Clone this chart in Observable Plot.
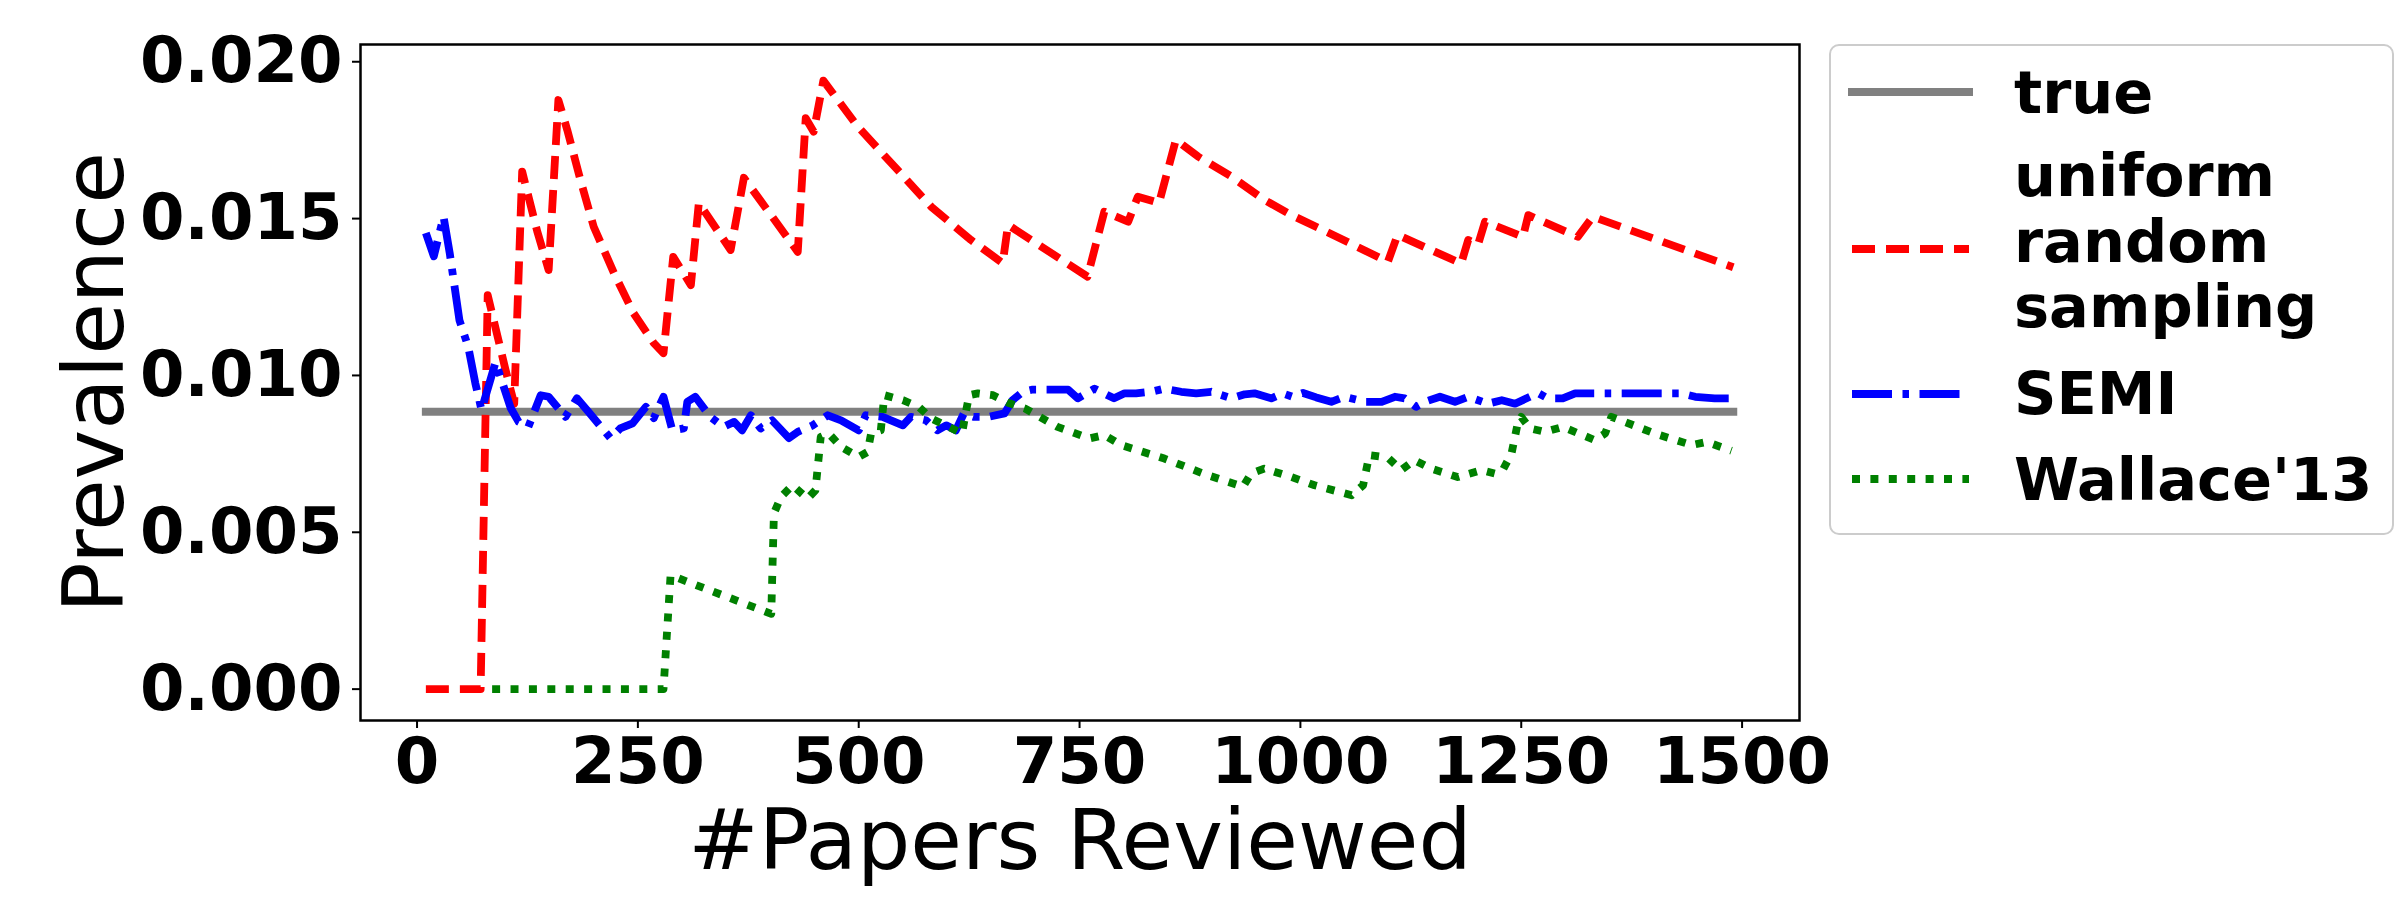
<!DOCTYPE html>
<html><head><meta charset="utf-8">
<script src="https://cdn.jsdelivr.net/npm/d3@7"></script>
<script src="https://cdn.jsdelivr.net/npm/@observablehq/plot@0.6"></script>
<style>
html,body{margin:0;padding:0;background:#fff;}
#wrap{position:relative;width:2400px;height:900px;overflow:hidden;}
#legend{position:absolute;left:1829px;top:44px;}
svg text{font-family:"DejaVu Sans",sans-serif;}
g[aria-label="x-axis tick label"] text, g[aria-label="y-axis tick label"] text{font-weight:bold;}
</style></head><body><div id="wrap"></div>
<script>
// ---------- data ----------
const xTicks = [0, 250, 500, 750, 1000, 1250, 1500];
const yTicks = [0, 0.005, 0.010, 0.015, 0.020];
const seriesNames = ["true", "uniform random sampling", "SEMI", "Wallace'13"];
const xLabel = "#Papers Reviewed";
const yLabel = "Prevalence";

const trueValue = 0.00884;
const trueX = [10, 1490];

const randomX = [10, 72, 80, 100, 110, 119, 136, 149, 160, 170, 185, 200, 223, 245, 268, 279, 290, 310, 319, 355, 370, 431, 440, 449, 460, 499, 544, 582, 627, 663, 669, 759, 778, 805, 816, 840, 859, 884, 922, 959, 990, 1040, 1099, 1110, 1182, 1190, 1201, 1209, 1252, 1258, 1314, 1331, 1490];
const randomY = [0, 0, 0.01256, 0.0102, 0.0091, 0.0165, 0.0146, 0.01336, 0.01878, 0.01783, 0.01623, 0.01474, 0.01326, 0.01199, 0.01103, 0.01071, 0.01378, 0.01288, 0.0155, 0.0140, 0.0163, 0.01394, 0.0182, 0.01777, 0.0194, 0.01793, 0.01655, 0.01538, 0.01432, 0.01358, 0.0148, 0.01315, 0.01522, 0.0149, 0.0157, 0.0155, 0.01751, 0.01698, 0.01634, 0.0156, 0.01511, 0.01444, 0.01362, 0.01448, 0.01357, 0.01432, 0.01416, 0.0149, 0.01442, 0.01511, 0.01442, 0.01506, 0.01345];

const semiX = [10, 19, 30, 37, 48, 58, 66, 73, 89, 106, 115, 126, 140, 149, 168, 181, 194, 219, 230, 244, 259, 268, 279, 289, 302, 306, 315, 332, 347, 359, 368, 378, 389, 402, 421, 431, 448, 465, 480, 500, 508, 527, 550, 559, 576, 589, 599, 610, 619, 630, 647, 665, 674, 686, 697, 737, 748, 767, 789, 801, 814, 831, 846, 865, 882, 899, 922, 937, 948, 967, 980, 991, 1003, 1018, 1035, 1050, 1073, 1092, 1107, 1118, 1131, 1141, 1158, 1175, 1190, 1212, 1228, 1243, 1269, 1280, 1297, 1311, 1431, 1447, 1469, 1490];
const semiY = [0.01454, 0.01380, 0.01506, 0.0139, 0.01176, 0.01091, 0.00975, 0.0089, 0.01043, 0.00896, 0.00852, 0.00836, 0.00937, 0.00932, 0.00868, 0.00927, 0.00884, 0.0080, 0.00831, 0.00847, 0.0090, 0.00864, 0.00932, 0.00825, 0.00831, 0.00916, 0.00932, 0.00868, 0.00836, 0.00852, 0.00825, 0.00873, 0.00831, 0.00857, 0.0080, 0.0082, 0.00841, 0.00873, 0.00857, 0.00825, 0.00873, 0.00868, 0.00841, 0.00868, 0.00857, 0.00825, 0.00841, 0.00825, 0.00879, 0.00868, 0.00868, 0.00879, 0.00921, 0.00948, 0.00955, 0.00955, 0.00927, 0.00958, 0.00927, 0.00943, 0.00943, 0.00948, 0.00958, 0.00948, 0.00943, 0.00948, 0.00927, 0.0094, 0.00943, 0.00927, 0.00943, 0.00932, 0.00944, 0.0093, 0.00916, 0.00932, 0.00916, 0.00916, 0.00932, 0.00927, 0.0090, 0.00916, 0.00932, 0.00916, 0.00932, 0.0091, 0.00921, 0.0091, 0.00944, 0.00927, 0.00927, 0.00943, 0.00943, 0.00932, 0.00927, 0.00927];

const wallaceX = [85, 279, 287, 401, 404, 412, 425, 442, 451, 457, 466, 480, 500, 510, 514, 525, 529, 550, 568, 582, 602, 617, 621, 625, 635, 652, 669, 688, 725, 761, 778, 797, 846, 895, 935, 944, 959, 990, 1016, 1058, 1071, 1078, 1099, 1114, 1129, 1148, 1178, 1205, 1220, 1229, 1239, 1246, 1250, 1260, 1277, 1297, 1333, 1345, 1352, 1367, 1401, 1443, 1460, 1488];
const wallaceY = [0, 0, 0.00363, 0.0024, 0.0056, 0.00613, 0.0065, 0.00607, 0.00634, 0.00804, 0.00815, 0.00772, 0.0074, 0.00756, 0.00815, 0.00825, 0.00937, 0.00921, 0.0090, 0.00863, 0.00836, 0.00815, 0.00879, 0.00937, 0.00943, 0.00937, 0.00913, 0.00895, 0.00836, 0.00799, 0.0081, 0.00778, 0.00735, 0.00682, 0.00645, 0.00687, 0.00703, 0.00676, 0.0065, 0.00618, 0.0065, 0.00746, 0.00738, 0.00698, 0.0073, 0.00703, 0.00676, 0.00698, 0.00687, 0.00698, 0.00751, 0.00847, 0.00868, 0.00831, 0.0082, 0.00836, 0.00794, 0.00815, 0.00868, 0.00852, 0.00815, 0.00778, 0.00788, 0.0076];

// ---------- styles ----------
const styles = {
  "true": {stroke: "#808080", strokeWidth: 8, dash: null, cap: "square"},
  "uniform random sampling": {stroke: "#ff0000", strokeWidth: 7.8, dash: "23,11", cap: "butt"},
  "SEMI": {stroke: "#0000ff", strokeWidth: 7.8, dash: "40,10.5,6.5,10.5", cap: "butt"},
  "Wallace'13": {stroke: "#008000", strokeWidth: 7.8, dash: "8,10.4", cap: "butt"}
};

const zip = (xs, ys) => xs.map((x, i) => ({x, y: ys[i]}));
const trueData = trueX.map(x => ({x, y: trueValue}));
const seriesData = [trueData, zip(randomX, randomY), zip(semiX, semiY), zip(wallaceX, wallaceY)];

const lineMarks = seriesNames.map((name, i) => {
  const s = styles[name];
  return Plot.line(seriesData[i], {
    x: "x", y: "y", stroke: s.stroke, strokeWidth: s.strokeWidth,
    strokeDasharray: s.dash ?? undefined, strokeLinecap: s.cap, strokeLinejoin: "round"
  });
});

const chart = Plot.plot({
  width: 2400, height: 900,
  marginLeft: 360, marginRight: 601, marginTop: 44, marginBottom: 180,
  style: {fontFamily: "DejaVu Sans", background: "white", color: "black"},
  x: {domain: [-64, 1565]},
  y: {domain: [-0.001, 0.02055]},
  marks: [
    Plot.axisX({ticks: xTicks, tickSize: 8, tickPadding: 9, fontSize: 64, fontWeight: "bold", strokeWidth: 2, label: null, tickFormat: d3.format("d")}),
    Plot.axisY({ticks: yTicks, tickSize: 8, tickPadding: 10, fontSize: 64, fontWeight: "bold", strokeWidth: 2, label: null, tickFormat: d3.format(".3f")}),
    ...lineMarks,
    Plot.frame({stroke: "black", strokeWidth: 2.5}),
    Plot.text([xLabel], {frameAnchor: "bottom", textAnchor: "middle", lineAnchor: "bottom", dy: 148, fontSize: 84, fill: "black"}),
    Plot.text([yLabel], {frameAnchor: "left", textAnchor: "middle", lineAnchor: "bottom", rotate: -90, dx: -238, fontSize: 84, fill: "black"})
  ]
});
document.getElementById("wrap").appendChild(chart);

// ---------- legend ----------
const legendLayout = [
  {lineY: 48, baselines: [68.5]},
  {lineY: 205, baselines: [152, 218, 283]},
  {lineY: 350, baselines: [370]},
  {lineY: 435, baselines: [456]}
];
const lg = d3.select("#wrap").append("svg").attr("id", "legend").attr("width", 566).attr("height", 492);
lg.append("rect").attr("x", 1).attr("y", 1).attr("width", 563).attr("height", 489).attr("rx", 9)
  .attr("fill", "white").attr("fill-opacity", 0.8).attr("stroke", "#cccccc").attr("stroke-width", 2);
seriesNames.forEach((name, i) => {
  const s = styles[name], L = legendLayout[i];
  lg.append("line").attr("x1", 23).attr("x2", 140).attr("y1", L.lineY).attr("y2", L.lineY)
    .attr("stroke", s.stroke).attr("stroke-width", s.strokeWidth)
    .attr("stroke-dasharray", s.dash).attr("stroke-linecap", s.cap);
  const words = i === 1 ? name.split(" ") : [name];
  words.forEach((w, j) => {
    lg.append("text").attr("x", 185).attr("y", L.baselines[j]).text(w)
      .attr("font-size", 59).attr("font-weight", "bold").attr("fill", "black");
  });
});
</script></body></html>
